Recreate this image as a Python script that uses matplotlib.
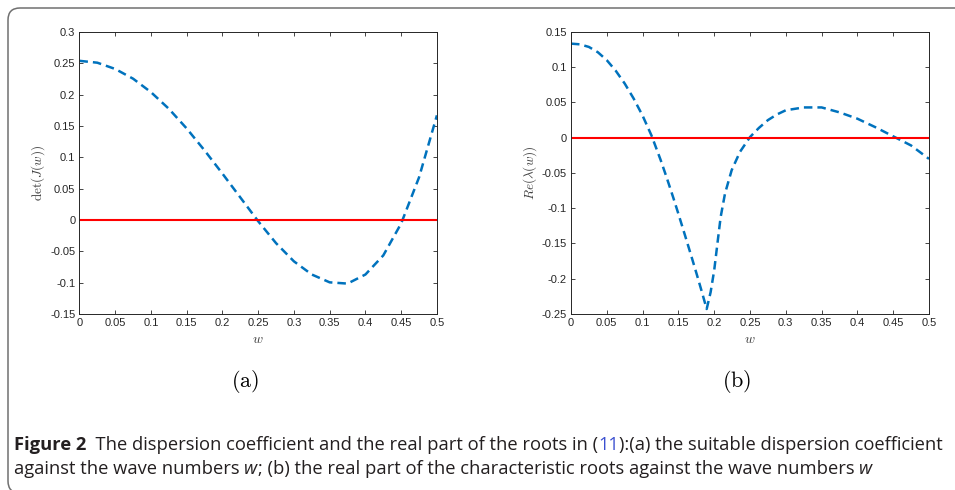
import matplotlib
matplotlib.use('Agg')
import matplotlib.pyplot as plt
import numpy as np
from matplotlib.patches import FancyBboxPatch
from matplotlib.transforms import IdentityTransform

plt.rcParams['mathtext.fontset'] = 'cm'
plt.rcParams['font.family'] = ['Liberation Sans', 'DejaVu Sans']

# (a) det(J(w))
w_a = [0, 0.025, 0.05, 0.075, 0.1, 0.125, 0.15, 0.175, 0.2, 0.225, 0.25,
       0.275, 0.3, 0.325, 0.35, 0.375, 0.4, 0.425, 0.45, 0.475, 0.5]
det_a = [0.254, 0.251, 0.241, 0.2255, 0.204, 0.1775, 0.146, 0.111, 0.074, 0.036, -0.002,
         -0.037, -0.066, -0.087, -0.0995, -0.1015, -0.087, -0.0565, -0.0055, 0.068, 0.167]

# (b) Re(lambda(w))
w_b = [0, 0.0125, 0.025, 0.0375, 0.05, 0.0625, 0.075, 0.0875, 0.1, 0.1125, 0.125,
       0.1337, 0.143, 0.15, 0.1593, 0.1686, 0.1756, 0.1826, 0.1895, 0.195, 0.2,
       0.2045, 0.209, 0.2151, 0.2244, 0.236, 0.25, 0.2625, 0.275, 0.2875, 0.3,
       0.325, 0.35, 0.375, 0.4, 0.425, 0.45, 0.475, 0.5]
re_b = [0.1335, 0.1325, 0.1288, 0.1213, 0.110, 0.095, 0.0769, 0.0556, 0.0313, 0.003, -0.031,
        -0.0567, -0.0855, -0.108, -0.1387, -0.1698, -0.1936, -0.2181, -0.2429, -0.219, -0.188,
        -0.150, -0.1125, -0.079, -0.046, -0.020, 0.001, 0.014, 0.025, 0.033, 0.039,
        0.043, 0.043, 0.036, 0.027, 0.015, 0.002, -0.011, -0.030]

xticks = [0, 0.05, 0.1, 0.15, 0.2, 0.25, 0.3, 0.35, 0.4, 0.45, 0.5]
xlabels = ['0', '0.05', '0.1', '0.15', '0.2', '0.25', '0.3', '0.35', '0.4', '0.45', '0.5']
yticks_a = [-0.15, -0.1, -0.05, 0, 0.05, 0.1, 0.15, 0.2, 0.25, 0.3]
ylabels_a = ['-0.15', '-0.1', '-0.05', '0', '0.05', '0.1', '0.15', '0.2', '0.25', '0.3']
yticks_b = [-0.25, -0.2, -0.15, -0.1, -0.05, 0, 0.05, 0.1, 0.15]
ylabels_b = ['-0.25', '-0.2', '-0.15', '-0.1', '-0.05', '0', '0.05', '0.1', '0.15']

blue = (0, 0.447, 0.741)
axcol = '#262626'

fig = plt.figure(figsize=(9.55, 4.9), dpi=100)

# rounded frame around the figure
frame = FancyBboxPatch((8, -3), 990, 485, boxstyle='round,pad=0,rounding_size=12',
                       transform=IdentityTransform(), facecolor='none',
                       edgecolor='#707070', linewidth=1.1)
fig.add_artist(frame)


def panel(rect, x, y, yt, yl, ylab, tag, tagx):
    ax = fig.add_axes(rect)
    ax.plot(x, y, '--', color=blue, linewidth=1.8, dashes=(3.4, 2.0))
    ax.axhline(0, color='red', linewidth=1.5)
    ax.set_xlim(0, 0.5)
    ax.set_ylim(yt[0], yt[-1])
    ax.set_xticks(xticks)
    ax.set_xticklabels(xlabels)
    ax.set_yticks(yt)
    ax.set_yticklabels(yl)
    ax.tick_params(direction='in', length=3, width=0.6, colors=axcol, labelsize=8,
                   top=True, right=True, pad=3)
    for s in ax.spines.values():
        s.set_color(axcol)
        s.set_linewidth(0.7)
    ax.set_xlabel('$w$', fontsize=10, color='#404040', labelpad=3)
    ax.set_ylabel(ylab, fontsize=9.5, color='#404040', labelpad=2)
    fig.text(tagx, 0.222, r'$\mathrm{(%s)}$' % tag, fontsize=16, ha='center', va='center')
    return ax


ax1 = panel([0.0832, 0.3592, 0.3743, 0.5755], w_a, det_a, yticks_a, ylabels_a,
            r'$\det(J(w))$', 'a', 0.2565)
ax2 = panel([0.5979, 0.3592, 0.3749, 0.5755], w_b, re_b, yticks_b, ylabels_b,
            r'$Re(\lambda(w))$', 'b', 0.7717)

# caption, drawn piece by piece
cap = fig.add_axes([0, 0, 1, 1])
cap.axis('off')
cap.set_xlim(0, 955)
cap.set_ylim(490, 0)
cf = dict(fontsize=13.2, family=['Open Sans', 'DejaVu Sans'], color='#231f20')

t = cap.text(14, 449.5, 'Figure 2', fontweight='bold', va='baseline', **cf)
for s, extra in [('  The dispersion coefficient and the real part of the roots in (', {}),
                 ('11', {'color': '#3a4fd0'}),
                 ('):(a) the suitable dispersion coefficient', {})]:
    kw = dict(cf)
    kw.update(extra)
    t = cap.annotate(s, xy=(1, 0), xycoords=t, va='bottom', **kw)

t = cap.text(14, 473.5, 'against the wave numbers ', va='baseline', **cf)
for s, extra in [('w', {'fontstyle': 'italic'}),
                 ('; (b) the real part of the characteristic roots against the wave numbers ', {}),
                 ('w', {'fontstyle': 'italic'})]:
    kw = dict(cf)
    kw.update(extra)
    t = cap.annotate(s, xy=(1, 0), xycoords=t, va='bottom', **kw)

plt.savefig('out.png', dpi=100)
